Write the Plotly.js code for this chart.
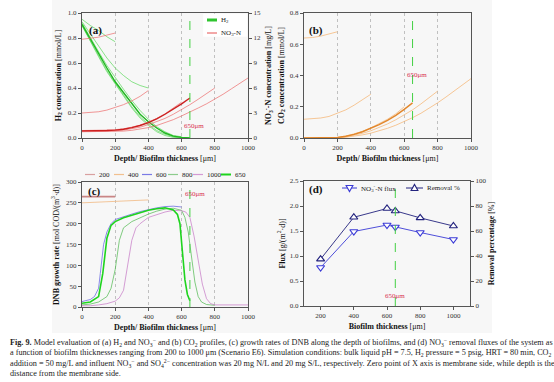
<!DOCTYPE html>
<html><head><meta charset="utf-8">
<script src="https://cdn.plot.ly/plotly-3.0.1.min.js"></script>
<style>html,body{margin:0;padding:0;background:#fff}#chart{width:554px;height:382px}</style>
</head><body><div id="chart"></div>
<script>
// ---------- depth grids (µm) ----------
const d200 = [0,50,100,150,200];
const d400 = [0,50,100,150,200,250,300,350,400];
const d600 = [0,50,100,150,200,250,300,350,400,450,500,550,600];
const d650 = [0,50,100,150,200,250,300,350,400,450,500,550,600,650];
const d800 = [0,50,100,150,200,250,300,350,400,450,500,550,600,650,700,750,800];
const d1000 = [0,50,100,150,200,250,300,350,400,450,500,550,600,650,700,750,800,850,900,950,1000];

// ---------- (a) H2 [mmol/L] ----------
const h2_200 = [0.95,0.90,0.86,0.81,0.77];
const h2_400 = [0.93,0.83,0.73,0.64,0.56,0.50,0.45,0.42,0.40];
const h2_600 = [0.92,0.80,0.69,0.58,0.48,0.39,0.30,0.22,0.15,0.09,0.05,0.02,0.01];
const h2_650 = [0.91,0.79,0.67,0.56,0.45,0.36,0.27,0.19,0.13,0.08,0.04,0.015,0.005,0.0];
const h2_800 = [0.90,0.78,0.66,0.54,0.44,0.34,0.25,0.17,0.11,0.06,0.03,0.01,0.003,0.0];
const h2_1000 = [0.90,0.77,0.65,0.53,0.43,0.33,0.24,0.16,0.10,0.05,0.02,0.005,0.0,0.0];

// ---------- (a) NO3-N [mg/L] ----------
const no3_200 = [11.85,11.95,12.1,12.35,12.6];
const no3_400 = [3.0,3.05,3.15,3.35,3.65,4.0,4.45,5.0,5.7];
const no3_600 = [0.9,0.9,0.92,0.95,1.0,1.1,1.3,1.55,1.9,2.35,2.9,3.55,4.3];
const no3_650 = [0.85,0.85,0.87,0.9,0.95,1.05,1.25,1.5,1.85,2.3,2.85,3.45,4.1,4.8];
const no3_800 = [0.8,0.8,0.8,0.83,0.87,0.95,1.1,1.3,1.6,1.95,2.35,2.85,3.4,4.0,4.65,5.3,6.0];
const no3_1000 = [0.75,0.75,0.75,0.76,0.78,0.83,0.92,1.05,1.25,1.5,1.85,2.2,2.65,3.1,3.6,4.1,4.65,5.25,5.9,6.55,7.2];

// ---------- (b) CO2 [mmol/L] ----------
const co2_200 = [0.64,0.643,0.652,0.665,0.68];
const co2_400 = [0.12,0.122,0.128,0.138,0.16,0.18,0.21,0.245,0.28];
const co2_600 = [0,0,0,0,0.003,0.012,0.025,0.042,0.065,0.09,0.12,0.155,0.2];
const co2_650 = [0,0,0,0,0.003,0.011,0.023,0.04,0.06,0.085,0.113,0.145,0.183,0.225];
const co2_800 = [0,0,0,0,0.002,0.008,0.017,0.03,0.046,0.066,0.09,0.117,0.147,0.18,0.218,0.258,0.30];
const co2_1000 = [0,0,0,0,0.001,0.005,0.011,0.02,0.031,0.045,0.062,0.082,0.105,0.13,0.158,0.19,0.225,0.262,0.3,0.34,0.38];

// ---------- (c) DNB growth rate [mol COD/(m3·d)] ----------
const g200_x = [0,100,200];
const g200 = [265,265,265];
const g400_x = [0,100,200,300,400];
const g400 = [250,251.5,253,255,257];
const g600_x = [0,50,75,100,110,120,130,150,175,200,250,300,350,400,450,500,550,600];
const g600 = [13,18,25,45,80,120,150,180,200,210,217,223,229,234,238,241,242,240];
const g800_x = [0,50,100,150,175,200,225,250,300,350,400,450,500,550,600,620,640,660,680,700,720,750,800];
const g800 = [5,7,12,25,45,90,160,190,205,215,223,230,235,237,232,215,180,120,60,25,12,6,4];
const g1000_x = [0,50,100,150,200,225,250,275,300,325,350,400,450,500,550,600,625,650,675,700,725,750,775,800,850,900,950,1000];
const g1000 = [3,3,5,8,14,22,40,100,160,190,200,215,222,228,232,231,228,215,170,110,55,20,8,5,5,5,5,5];
const g650_x = [0,50,100,125,150,175,200,250,300,350,400,450,500,550,575,590,600,610,620,635,650];
const g650 = [9,12,25,80,165,196,205,214,220,226,232,236,238,233,222,200,160,110,65,30,15];

// ---------- (d) fluxes ----------
const thickness = [200,400,600,650,800,1000];
const no3Flux = [0.77,1.49,1.62,1.58,1.47,1.33];
const removalPct = [37.5,71,78,76,70.5,64];

// ---------- helpers ----------
const W = 554, H = 382;
const px = v => v / W;
const py = v => 1 - v / H;
const SERIF = 'Liberation Serif';

function ln(x, y, xa, ya, color, width) {
  return {x: x, y: y, xaxis: xa, yaxis: ya, type: 'scatter', mode: 'lines',
          line: {color: color, width: width}, hoverinfo: 'skip', showlegend: false};
}
const G = '#5ad85a', GT = '#1fb81f', R = '#ec6a6a', RT = '#cc2020', O = '#f5b06a', OT = '#e2862a';
const TW = 0.7, KW = 1.4;

const traces = [
  // (a) H2
  ln(d200, h2_200, 'x', 'y', G, TW),
  ln(d400, h2_400, 'x', 'y', G, TW),
  ln(d600, h2_600, 'x', 'y', G, TW),
  ln(d650, h2_800, 'x', 'y', G, TW),
  ln(d650, h2_1000, 'x', 'y', G, TW),
  ln(d650, h2_650, 'x', 'y', GT, KW),
  // (a) NO3-N
  ln(d200, no3_200, 'x', 'y2', R, TW),
  ln(d400, no3_400, 'x', 'y2', R, TW),
  ln(d600, no3_600, 'x', 'y2', R, TW),
  ln(d800, no3_800, 'x', 'y2', R, TW),
  ln(d1000, no3_1000, 'x', 'y2', R, TW),
  ln(d650, no3_650, 'x', 'y2', RT, KW),
  // (b) CO2
  ln(d200, co2_200, 'x2', 'y3', O, TW),
  ln(d400, co2_400, 'x2', 'y3', O, TW),
  ln(d600, co2_600, 'x2', 'y3', O, TW),
  ln(d800, co2_800, 'x2', 'y3', O, TW),
  ln(d1000, co2_1000, 'x2', 'y3', O, TW),
  ln(d650, co2_650, 'x2', 'y3', OT, KW),
  // (c) growth
  ln(g200_x, g200, 'x3', 'y4', '#c98585', 1.6),
  ln(g400_x, g400, 'x3', 'y4', '#f2c08e', 0.9),
  ln(g600_x, g600, 'x3', 'y4', '#5a5ae0', TW),
  ln(g800_x, g800, 'x3', 'y4', '#4cb84c', TW),
  ln(g1000_x, g1000, 'x3', 'y4', '#c475c4', TW),
  ln(g650_x, g650, 'x3', 'y4', '#1ed41e', 1.6),
  // (d)
  {x: thickness, y: removalPct, xaxis: 'x4', yaxis: 'y6', type: 'scatter', mode: 'lines+markers',
   line: {color: '#23237e', width: 0.9}, marker: {symbol: 'triangle-up', size: 7, color: '#fff', line: {color: '#23237e', width: 1.2}},
   hoverinfo: 'skip', showlegend: false},
  {x: thickness, y: no3Flux, xaxis: 'x4', yaxis: 'y5', type: 'scatter', mode: 'lines+markers',
   line: {color: '#3b3bd6', width: 0.9}, marker: {symbol: 'triangle-down', size: 7, color: '#fff', line: {color: '#3b3bd6', width: 1.2}},
   hoverinfo: 'skip', showlegend: false}
];

const tickFont = {family: SERIF, size: 7, color: '#333'};
const titleFont = {family: SERIF, size: 8, color: '#111'};
const XT = '<b>Depth/ Biofilm thickness</b> [μm]';

function xAxis(dom, anchor, extra) {
  return Object.assign({
    domain: dom, anchor: anchor, range: [0, 1000], tickvals: [0,200,400,600,800,1000],
    showgrid: true, gridcolor: '#a8a8a8', griddash: 'dot', gridwidth: 0.7,
    showline: true, linecolor: '#555', linewidth: 1, mirror: true,
    ticks: 'outside', ticklen: 3, tickcolor: '#555', zeroline: false,
    tickfont: tickFont, title: {text: XT, font: titleFont, standoff: 3}
  }, extra || {});
}
function yAxis(dom, anchor, extra) {
  return Object.assign({
    domain: dom, anchor: anchor, showgrid: false, zeroline: false,
    showline: true, linecolor: '#555', linewidth: 1, mirror: true,
    ticks: 'outside', ticklen: 3, tickcolor: '#555', tickfont: tickFont
  }, extra || {});
}

const domXL = [px(82), px(248)], domXR = [px(304), px(471)];
const domYT = [py(138), py(13)], domYB = [py(307), py(182)];

const layout = {
  width: W, height: H, margin: {l: 0, r: 0, t: 0, b: 0},
  paper_bgcolor: '#fff', plot_bgcolor: '#fff', showlegend: false,
  font: {family: SERIF, size: 8, color: '#222'},
  xaxis: xAxis(domXL, 'y'),
  yaxis: yAxis(domYT, 'x', {range: [0, 1], dtick: 0.2, tickformat: '.1f', mirror: false,
    title: {text: '<b>H<sub>2</sub> concentration</b> [mmol/L]', font: titleFont, standoff: 5}}),
  yaxis2: yAxis(domYT, 'x', {overlaying: 'y', side: 'right', range: [0, 15], dtick: 3, mirror: false,
    title: {text: '<b>NO<sub>3</sub><sup>-</sup>-N concentration</b> [mg/L]', font: titleFont, standoff: 5}}),
  xaxis2: xAxis(domXR, 'y3'),
  yaxis3: yAxis(domYT, 'x2', {range: [0, 0.8], dtick: 0.2, tickformat: '.1f',
    title: {text: '<b>CO<sub>2</sub> concentration</b> [mmol/L]', font: titleFont, standoff: 4}}),
  xaxis3: xAxis(domXL, 'y4'),
  yaxis4: yAxis(domYB, 'x3', {range: [0, 300], dtick: 50,
    title: {text: '<b>DNB growth rate</b> [mol COD/(m<sup>3</sup>·d)]', font: titleFont, standoff: 5}}),
  xaxis4: xAxis([px(304), px(470)], 'y5', {range: [100, 1100], tickvals: [200,400,600,800,1000], showgrid: false,
    title: {text: '<b>Biofilm thickness</b> [μm]', font: titleFont, standoff: 3}}),
  yaxis5: yAxis([py(306), py(181)], 'x4', {range: [0, 2.5], dtick: 0.5, tickformat: '.1f', mirror: false,
    title: {text: '<b>Flux</b> [g/(m<sup>2</sup>·d)]', font: titleFont, standoff: 3}}),
  yaxis6: yAxis([py(306), py(181)], 'x4', {overlaying: 'y5', side: 'right', range: [0, 100], dtick: 20, mirror: false,
    title: {text: '<b>Removal percentage</b> [%]', font: titleFont, standoff: 2}}),
  shapes: [],
  annotations: []
};

const S = layout.shapes, A = layout.annotations;
// faint figure background
S.push({type: 'rect', xref: 'paper', yref: 'paper', x0: px(52), x1: px(492), y0: py(333), y1: py(0),
        fillcolor: '#f7f7f7', line: {width: 0}, layer: 'below'});
// white patch under legend in (a)
S.push({type: 'rect', xref: 'x', yref: 'y', x0: 730, x1: 995, y0: 0.81, y1: 0.995,
        fillcolor: '#fff', line: {width: 0}, layer: 'between'});
// 650 µm dashed markers
[['x','y'],['x2','y3'],['x3','y4'],['x4','y5']].forEach(p => {
  S.push({type: 'line', xref: p[0], yref: p[1] + ' domain', x0: 650, x1: 650, y0: 0, y1: 1,
          line: {color: '#44d044', width: 1, dash: 'dash'}});
});
// 650µm labels
const labRed = {family: SERIF, size: 7, color: '#d83050'};
A.push({xref: 'x', yref: 'y', x: 676, y: 0.1, text: '650μm', showarrow: false, font: labRed});
A.push({xref: 'x2', yref: 'y3', x: 678, y: 0.405, text: '650μm', showarrow: false, font: labRed});
A.push({xref: 'x3', yref: 'y4', x: 680, y: 271, text: '650μm', showarrow: false, font: labRed});
A.push({xref: 'x4', yref: 'y5', x: 650, y: 0.2, text: '650μm', showarrow: false, font: labRed});
// panel letters
const letFont = {family: SERIF, size: 11, color: '#111'};
A.push({xref: 'paper', yref: 'paper', x: px(87), y: py(22), xanchor: 'left', text: '<b>(a)</b>', showarrow: false, font: letFont});
A.push({xref: 'paper', yref: 'paper', x: px(307), y: py(22), xanchor: 'left', text: '<b>(b)</b>', showarrow: false, font: letFont});
A.push({xref: 'paper', yref: 'paper', x: px(86), y: py(191), xanchor: 'left', text: '<b>(c)</b>', showarrow: false, font: letFont});
A.push({xref: 'paper', yref: 'paper', x: px(307), y: py(189), xanchor: 'left', text: '<b>(d)</b>', showarrow: false, font: letFont});

// manual legends
const legFont = {family: SERIF, size: 7, color: '#222'};
function legLine(x0, x1, y, color, width) {
  S.push({type: 'line', xref: 'paper', yref: 'paper', x0: px(x0), x1: px(x1), y0: py(y), y1: py(y),
          line: {color: color, width: width}});
}
function legText(x, y, t) {
  A.push({xref: 'paper', yref: 'paper', x: px(x), y: py(y), xanchor: 'left', yanchor: 'middle', text: t, showarrow: false, font: legFont});
}
function tri(cx, cy, up, color) {
  const h = 3.2, w = 3.4;
  let pts = up ? [[cx - w, cy + h*0.8], [cx + w, cy + h*0.8], [cx, cy - h*1.1]]
               : [[cx - w, cy - h*0.8], [cx + w, cy - h*0.8], [cx, cy + h*1.1]];
  const path = 'M' + pts.map(p => px(p[0]).toFixed(5) + ',' + py(p[1]).toFixed(5)).join('L') + 'Z';
  S.push({type: 'path', xref: 'paper', yref: 'paper', path: path, fillcolor: '#fff', line: {color: color, width: 1.1}});
}
// (a)
legLine(207, 217, 20, '#2fc42f', 3); legText(219, 20, 'H<sub>2</sub>');
legLine(207, 217, 33, '#e65050', 1); legText(219, 33, 'NO<sub>3</sub>-N');
// (c)
const cLeg = [[85,'#d9a0a0','200',1.2],[114,'#f2c08e','400',1.2],[142,'#7a7ae6','600',1.2],
              [168,'#8ccc8c','800',1.2],[193,'#d49ad4','1000',1.2],[221,'#1ed41e','650',2]];
cLeg.forEach(it => { legLine(it[0], it[0] + 10, 174.5, it[1], it[3]); legText(it[0] + 12, 174.5, it[2]); });
// (d)
legLine(342, 357, 188, '#3b3bd6', 1); tri(349.5, 188, false, '#3b3bd6');
legText(359, 188, 'NO<sub>3</sub><sup>-</sup>-N flux');
legLine(406, 423, 188, '#23237e', 1); tri(414.5, 188, true, '#23237e');
legText(425, 188, 'Removal %');

// caption
const capFont = {family: SERIF, size: 8.2, color: '#222'};
const cap = [
  '<b>Fig. 9.</b> Model evaluation of (a) H<sub>2</sub> and NO<sub>3</sub><sup>−</sup> and (b) CO<sub>2</sub> profiles, (c) growth rates of DNB along the depth of biofilms, and (d) NO<sub>3</sub><sup>−</sup> removal fluxes of the system as',
  'a function of biofilm thicknesses ranging from 200 to 1000 μm (Scenario E6). Simulation conditions: bulk liquid pH = 7.5, H<sub>2</sub> pressure = 5 psig, HRT = 80 min, CO<sub>2</sub>',
  'addition = 50 mg/L and influent NO<sub>3</sub><sup>−</sup> and SO<sub>4</sub><sup>2−</sup> concentration was 20 mg N/L and 20 mg S/L, respectively. Zero point of X axis is membrane side, while depth is the',
  'distance from the membrane side.'
];
const capY = [342, 352.5, 363, 373.5];
cap.forEach((t, i) => A.push({xref: 'paper', yref: 'paper', x: px(8), y: py(capY[i]), xanchor: 'left', yanchor: 'middle',
  text: t, showarrow: false, font: capFont}));

Plotly.newPlot('chart', traces, layout, {staticPlot: true, displayModeBar: false});
</script></body></html>
